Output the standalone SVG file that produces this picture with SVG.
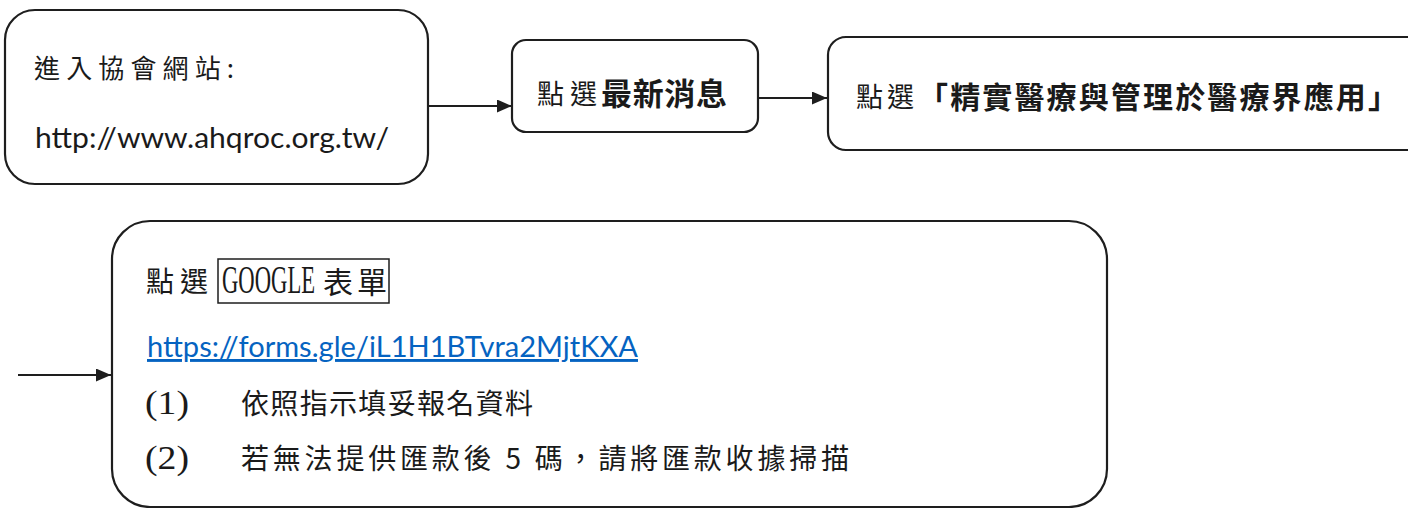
<svg xmlns="http://www.w3.org/2000/svg" width="1408" height="508" viewBox="0 0 1408 508">
<style>
.box{fill:#fff;stroke:#1e1e1e;stroke-width:2.2}
.cjk{font-family:"Noto Sans CJK TC","Noto Sans CJK SC",sans-serif;fill:#1a1a1a}
.lat{font-family:"Lato","Liberation Sans",sans-serif;fill:#1a1a1a}
.ser{font-family:"Liberation Serif",serif;fill:#1a1a1a}
.conn{stroke:#1e1e1e;stroke-width:1.8;fill:none}
</style>
<defs>
<marker id="arr" markerUnits="userSpaceOnUse" markerWidth="16" markerHeight="14" refX="15" refY="6.5" orient="auto">
<path d="M0,0 L15,6.5 L0,13 z" fill="#1e1e1e"/>
</marker>
</defs>
<rect width="1408" height="508" fill="#fff"/>
<g id="connectors">
<line class="conn" x1="428" y1="106" x2="512" y2="106" marker-end="url(#arr)"/>
<line class="conn" x1="758" y1="98" x2="827" y2="98" marker-end="url(#arr)"/>
<line class="conn" x1="18" y1="375" x2="111" y2="375" marker-end="url(#arr)"/>
</g>
<g id="node-website">
<rect class="box" x="5" y="10" width="423" height="174" rx="30"/>
<text class="cjk" x="34" y="78" font-size="26" textLength="200" lengthAdjust="spacing">進入協會網站:</text>
<text class="lat" x="35" y="148" font-size="28" textLength="354" lengthAdjust="spacingAndGlyphs">http://www.ahqroc.org.tw/</text>
</g>
<g id="node-news">
<rect class="box" x="512" y="40" width="246" height="92" rx="14"/>
<text class="cjk" x="537" y="104" font-size="27" textLength="60" lengthAdjust="spacing">點選</text>
<text class="cjk" x="601" y="105" font-size="31" font-weight="bold" textLength="126" lengthAdjust="spacing">最新消息</text>
</g>
<g id="node-course">
<rect class="box" x="828" y="37" width="620" height="113" rx="18"/>
<text class="cjk" x="856" y="107" font-size="27" textLength="58" lengthAdjust="spacing">點選</text>
<text class="cjk" x="918" y="108" font-size="30" font-weight="bold" textLength="480" lengthAdjust="spacing">「精實醫療與管理於醫療界應用」</text>
</g>
<g id="node-form">
<rect class="box" x="112" y="221" width="995" height="286" rx="38"/>
<text class="cjk" x="146" y="292" font-size="28" textLength="62" lengthAdjust="spacing">點選</text>
<rect x="218" y="259" width="171" height="44" fill="none" stroke="#1e1e1e" stroke-width="1.5"/>
<text class="ser" transform="matrix(0.566 0 0 1 222 293)" x="0" y="0" font-size="40">GOOGLE</text>
<text class="cjk" x="323" y="293" font-size="30" textLength="64" lengthAdjust="spacing">表單</text>
<text class="lat" x="147" y="357" font-size="29" style="fill:#0563C1" text-decoration="underline" textLength="491" lengthAdjust="spacingAndGlyphs">https://forms.gle/iL1H1BTvra2MjtKXA</text>
<text class="ser" x="145" y="414" font-size="34" textLength="44" lengthAdjust="spacingAndGlyphs">(1)</text>
<text class="cjk" x="241" y="414" font-size="28" textLength="292" lengthAdjust="spacing">依照指示填妥報名資料</text>
<text class="ser" x="145" y="469" font-size="34" textLength="44" lengthAdjust="spacingAndGlyphs">(2)</text>
<text class="cjk" x="241" y="469" font-size="28" textLength="608" lengthAdjust="spacing">若無法提供匯款後 5 碼，請將匯款收據掃描</text>
</g>
</svg>
